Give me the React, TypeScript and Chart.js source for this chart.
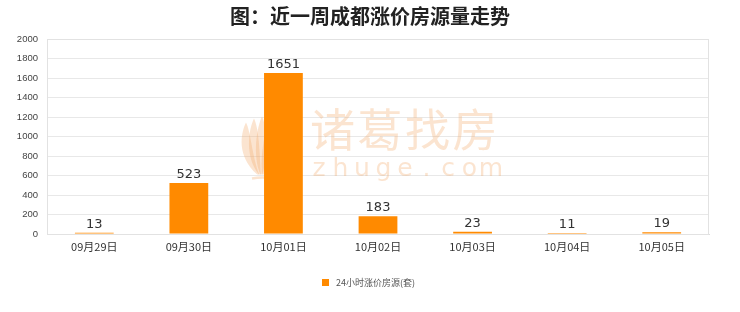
import React, { useEffect, useRef } from "react";
import { Chart, registerables } from "chart.js";

Chart.register(...registerables);

const titleText = "图：近一周成都涨价房源量走势";
const seriesName = "24小时涨价房源(套)";
const categories = ["09月29日", "09月30日", "10月01日", "10月02日", "10月03日", "10月04日", "10月05日"];
const listings = [13, 523, 1651, 183, 23, 11, 19];
const yMax = 2000;
const yStep = 200;
const barColor = "#FF8A00";

const cjk = '"Noto Sans CJK SC", "DejaVu Sans", sans-serif';
const markColor = "rgba(243, 172, 112, 0.33)";

// Faint brand mark behind the bars, plus the frame around the plot area.
const backdropPlugin = {
  id: "backdrop",
  beforeDatasetsDraw(chart: any) {
    const { ctx, chartArea } = chart;
    ctx.save();
    // frame
    ctx.strokeStyle = "#e2e2e2";
    ctx.lineWidth = 1;
    ctx.strokeRect(chartArea.left + 0.5, chartArea.top + 0.5, chartArea.right - chartArea.left - 1, chartArea.bottom - chartArea.top);

    const cx = (chartArea.left + chartArea.right) / 2;
    const cy = (chartArea.top + chartArea.bottom) / 2;
    ctx.fillStyle = markColor;
    ctx.strokeStyle = markColor;

    // logo: a sheaf of narrow leaves
    const baseX = cx - 118;
    const baseY = cy + 44;
    const leaves = [
      { dx: -14, top: -58, w: 5 },
      { dx: -6, top: -62, w: 5 },
      { dx: 2, top: -64, w: 5 },
      { dx: 10, top: -62, w: 5 },
    ];
    leaves.forEach((lf) => {
      const tx = baseX + lf.dx;
      const ty = baseY + lf.top;
      ctx.beginPath();
      ctx.moveTo(baseX + lf.dx * 0.2, baseY - 6);
      ctx.bezierCurveTo(tx - lf.w * 2, baseY - 25, tx - lf.w, ty + 10, tx, ty);
      ctx.bezierCurveTo(tx + lf.w, ty + 10, tx + lf.w * 1.2, baseY - 25, baseX + lf.dx * 0.2 + 2, baseY - 6);
      ctx.closePath();
      ctx.fill();
    });
    ctx.lineWidth = 2.5;
    ctx.beginPath();
    ctx.moveTo(baseX - 8, baseY - 2);
    ctx.quadraticCurveTo(baseX + 2, baseY - 4, baseX + 14, baseY - 2);
    ctx.stroke();

    // name
    ctx.font = `400 45px ${cjk}`;
    ctx.textAlign = "left";
    ctx.textBaseline = "middle";
    const name = "诸葛找房";
    const nx = cx - 68;
    for (let i = 0; i < name.length; i++) {
      ctx.fillText(name[i], nx + i * 47.5, cy - 7);
    }
    ctx.font = `400 25px "DejaVu Sans", sans-serif`;
    ctx.textAlign = "center";
    const site = "zhuge.com";
    for (let i = 0; i < site.length; i++) {
      ctx.fillText(site[i], nx + 9 + i * 21.5, cy + 33);
    }
    ctx.restore();
  },
};

// Value labels above bars, title and legend.
const overlayPlugin = {
  id: "overlay",
  afterDatasetsDraw(chart: any) {
    const { ctx } = chart;
    const meta = chart.getDatasetMeta(0);
    ctx.save();
    ctx.fillStyle = "#333";
    ctx.font = `13px "DejaVu Sans", sans-serif`;
    ctx.textAlign = "center";
    ctx.textBaseline = "bottom";
    meta.data.forEach((bar: any, i: number) => {
      ctx.fillText(String(listings[i]), bar.x, bar.y - 2);
    });

    // title
    ctx.font = `bold 20px ${cjk}`;
    ctx.fillStyle = "#222";
    ctx.textBaseline = "middle";
    ctx.fillText(titleText, chart.width / 2, 16);

    // legend
    ctx.font = `9px ${cjk}`;
    ctx.textAlign = "left";
    const sx = 322;
    const ly = 283;
    ctx.fillStyle = barColor;
    ctx.fillRect(sx, ly - 4, 7, 7);
    ctx.fillStyle = "#555";
    ctx.fillText(seriesName, sx + 14, ly);
    ctx.restore();
  },
};

export default function App() {
  const canvasRef = useRef<HTMLCanvasElement | null>(null);

  useEffect(() => {
    document.body.style.margin = "0";
    const canvas = canvasRef.current;
    if (!canvas) return;
    const chart = new Chart(canvas, {
      type: "bar",
      data: {
        labels: categories,
        datasets: [
          {
            label: seriesName,
            data: listings,
            backgroundColor: barColor,
            borderWidth: 0,
            categoryPercentage: 1,
            barPercentage: 0.41,
          },
        ],
      },
      options: {
        responsive: false,
        animation: false,
        devicePixelRatio: 1,
        layout: { padding: { top: 39, right: 31, left: 0, bottom: 0 } },
        plugins: {
          legend: { display: false },
          title: { display: false },
          tooltip: { enabled: false },
        },
        scales: {
          x: {
            grid: { display: false, drawTicks: false },
            border: { color: "#dcdcdc" },
            ticks: {
              padding: 6,
              color: "#333",
              font: { size: 11, family: '"Noto Sans CJK SC", sans-serif' },
              maxRotation: 0,
            },
            afterFit(scale: any) {
              scale.height = 78;
            },
          },
          y: {
            min: 0,
            max: yMax,
            grid: { color: "#e8e8e8", drawTicks: false },
            border: { display: false },
            ticks: {
              stepSize: yStep,
              padding: 9,
              color: "#444",
              font: { size: 9.5, family: '"Liberation Sans", sans-serif' },
              callback: (v: any) => String(v),
            },
            afterFit(scale: any) {
              scale.width = 47;
            },
          },
        },
      },
      plugins: [backdropPlugin, overlayPlugin],
    });
    return () => chart.destroy();
  }, []);

  return (
    <div style={{ position: "absolute", left: 0, top: 0, width: 740, height: 312, background: "#fff" }}>
      <canvas ref={canvasRef} width={740} height={312} style={{ width: 740, height: 312 }} />
    </div>
  );
}
